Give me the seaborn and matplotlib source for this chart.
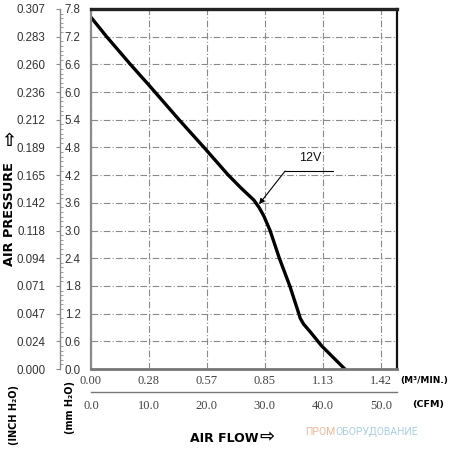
import matplotlib
matplotlib.use("Agg")
import matplotlib.pyplot as plt
from matplotlib.ticker import MultipleLocator, FixedLocator
import pandas as pd
import seaborn as sns

# ---- data ----
flow_cfm = [0, 2.7, 6.8, 10.0, 15.2, 19.5, 23.7, 25.9, 28.1, 29.0, 29.8, 30.9,
            32.5, 34.3, 35.6, 36.1, 36.7, 37.8, 39.8, 43.8]
pressure_mm = [7.62, 7.2, 6.6, 6.15, 5.4, 4.8, 4.2, 3.92, 3.66, 3.5, 3.32, 3.0,
               2.4, 1.8, 1.3, 1.1, 0.97, 0.81, 0.5, 0.0]

cfm_ticks = [0, 10, 20, 30, 40, 50]
cfm_labels = ["0.0", "10.0", "20.0", "30.0", "40.0", "50.0"]
m3_labels = ["0.00", "0.28", "0.57", "0.85", "1.13", "1.42"]

mm_ticks = [0.0, 0.6, 1.2, 1.8, 2.4, 3.0, 3.6, 4.2, 4.8, 5.4, 6.0, 6.6, 7.2, 7.8]
mm_labels = ["0.0", "0.6", "1.2", "1.8", "2.4", "3.0", "3.6", "4.2", "4.8",
             "5.4", "6.0", "6.6", "7.2", "7.8"]
inch_labels = ["0.000", "0.024", "0.047", "0.071", "0.094", "0.118", "0.142",
               "0.165", "0.189", "0.212", "0.236", "0.260", "0.283", "0.307"]

curve_label = "12V"
label_arrow_tip = (29.0, 3.57)
label_arrow_tail = (33.5, 4.29)
label_line_end = 41.8
label_text_pos = (37.8, 4.57)

XMAX = 52.8
YMAX = 7.8

sns.set_style("white")
plt.rcParams['font.family'] = ['DejaVu Sans']

W, H = 451, 450
fig = plt.figure(figsize=(W / 100, H / 100), dpi=100)

def fx(px):
    return px / W

def fy(py):
    return 1 - py / H

L, R, T, B = 91, 397, 9, 369
ax = fig.add_axes([fx(L), fy(B), fx(R) - fx(L), fy(T) - fy(B)])
df = pd.DataFrame({"flow": flow_cfm, "pressure": pressure_mm})
sns.lineplot(data=df, x="flow", y="pressure", sort=False, estimator=None,
             color="black", lw=2.4, ax=ax)
ax.set_xlim(0, XMAX)
ax.set_ylim(0, YMAX)
ax.set_xticks(cfm_ticks)
ax.set_yticks(mm_ticks)
ax.tick_params(length=0, labelleft=False, labelbottom=False)
ax.set_xlabel("")
ax.set_ylabel("")
ax.grid(True, color="#8a8a8a", lw=0.8, ls=(0, (6, 2, 1, 2)))
ax.spines['top'].set(color="#222222", lw=2.4)
ax.spines['right'].set(color="#111111", lw=1.6)
ax.spines['left'].set(color="#8a8a8a", lw=1.6)
ax.spines['bottom'].set(color="#777777", lw=2.0)

# annotation
ax.annotate("", xy=label_arrow_tip, xytext=label_arrow_tail,
            arrowprops=dict(arrowstyle='-|>', lw=0.8, color='black',
                            mutation_scale=8, shrinkA=0, shrinkB=0))
ax.plot([label_arrow_tail[0], label_line_end], [label_arrow_tail[1]] * 2,
        color='black', lw=0.8)
ax.text(*label_text_pos, curve_label, ha='center', va='center', fontsize=9,
        family='Liberation Sans', color='#111')

# mm axis (left, zero width)
axm = fig.add_axes([fx(60), fy(B), 1e-5, fy(T) - fy(B)])
axm.set_facecolor('none')
axm.set_ylim(0, YMAX)
axm.set_xticks([])
axm.yaxis.set_major_locator(FixedLocator(mm_ticks))
axm.set_yticklabels(mm_labels)
axm.yaxis.set_minor_locator(MultipleLocator(0.1))
for s in ['top', 'right', 'bottom']:
    axm.spines[s].set_visible(False)
axm.spines['left'].set(color="#8a8a8a", lw=1.0)
axm.tick_params(axis='y', which='major', left=True, right=False, labelleft=False,
                labelright=True, direction='out', length=3, width=0.8,
                color="#8a8a8a", pad=0.5, labelsize=8.3, labelcolor="#333")
axm.tick_params(axis='y', which='minor', left=True, right=False,
                direction='in', length=2.5, width=0.6, color="#8a8a8a")
for t in axm.get_yticklabels():
    t.set_family('Liberation Sans')

# inch axis
axi = fig.add_axes([fx(60), fy(B), 1e-5, fy(T) - fy(B)])
axi.set_facecolor('none')
axi.set_ylim(0, YMAX)
axi.set_xticks([])
axi.set_yticks(mm_ticks)
axi.set_yticklabels(inch_labels)
for s in axi.spines.values():
    s.set_visible(False)
axi.tick_params(axis='y', length=0, pad=10.5, labelsize=8.3, labelcolor="#333")
for t in axi.get_yticklabels():
    t.set_family('Liberation Sans')

# bottom axis (zero height)
AY = 392
axb = fig.add_axes([fx(L), fy(AY), fx(R) - fx(L), 1e-5])
axb.set_facecolor('none')
axb.set_xlim(0, XMAX)
axb.set_yticks([])
axb.xaxis.set_major_locator(FixedLocator(cfm_ticks))
axb.set_xticklabels(cfm_labels)
axb.xaxis.set_minor_locator(MultipleLocator(2))
for s in ['top', 'right', 'left']:
    axb.spines[s].set_visible(False)
axb.spines['bottom'].set(color="#777777", lw=1.0)
axb.tick_params(axis='x', which='major', direction='out', length=3.5, width=0.8,
                color="#777", pad=2.5, labelsize=9, labelcolor="#444")
axb.tick_params(axis='x', which='minor', direction='in', length=2.5, width=0.6,
                color="#777")
for t in axb.get_xticklabels():
    t.set_family('Liberation Serif')

axt = fig.add_axes([fx(L), fy(AY), fx(R) - fx(L), 1e-5])
axt.set_facecolor('none')
axt.set_xlim(0, XMAX)
axt.set_yticks([])
for s in axt.spines.values():
    s.set_visible(False)
axt.xaxis.tick_top()
axt.set_xticks(cfm_ticks)
axt.set_xticklabels(m3_labels)
axt.tick_params(axis='x', length=0, pad=3.5, labelsize=9, labelcolor="#444")
for t in axt.get_xticklabels():
    t.set_family('Liberation Serif')

# titles
bold = dict(fontweight='bold', color='black')
fig.text(fx(10), fy(214), "AIR PRESSURE", rotation=90, ha='center', va='center',
         fontsize=9.3, **bold)
fig.text(fx(9), fy(141), "⇧", ha='center', va='center', fontsize=13, **bold)
fig.text(fx(14), fy(415), "(INCH H₂O)", rotation=90, ha='center', va='center',
         fontsize=7, **bold)
fig.text(fx(70), fy(407), "(mm H₂O)", rotation=90, ha='center', va='center',
         fontsize=7, **bold)
fig.text(fx(424), fy(381), "(M³/MIN.)", ha='center', va='center',
         fontsize=6.5, **bold)
fig.text(fx(428), fy(404), "(CFM)", ha='center', va='center',
         fontsize=6.8, **bold)
fig.text(fx(224), fy(438), "AIR FLOW", ha='center', va='center',
         fontsize=9, **bold)
fig.text(fx(267), fy(437), "⇨", ha='center', va='center', fontsize=13, **bold)

# watermark
wm1 = fig.text(fx(305), fy(432), "ПРОМ", ha='left', va='center', fontsize=7.5,
               color="#f3b796", family='Roboto')
fig.canvas.draw()
bb = wm1.get_window_extent()
fig.text(bb.x1 / W, fy(432), "ОБОРУДОВАНИЕ", ha='left', va='center',
         fontsize=7.5, color="#a9cfe2", family='Roboto')

fig.savefig("out.png", dpi=100)
